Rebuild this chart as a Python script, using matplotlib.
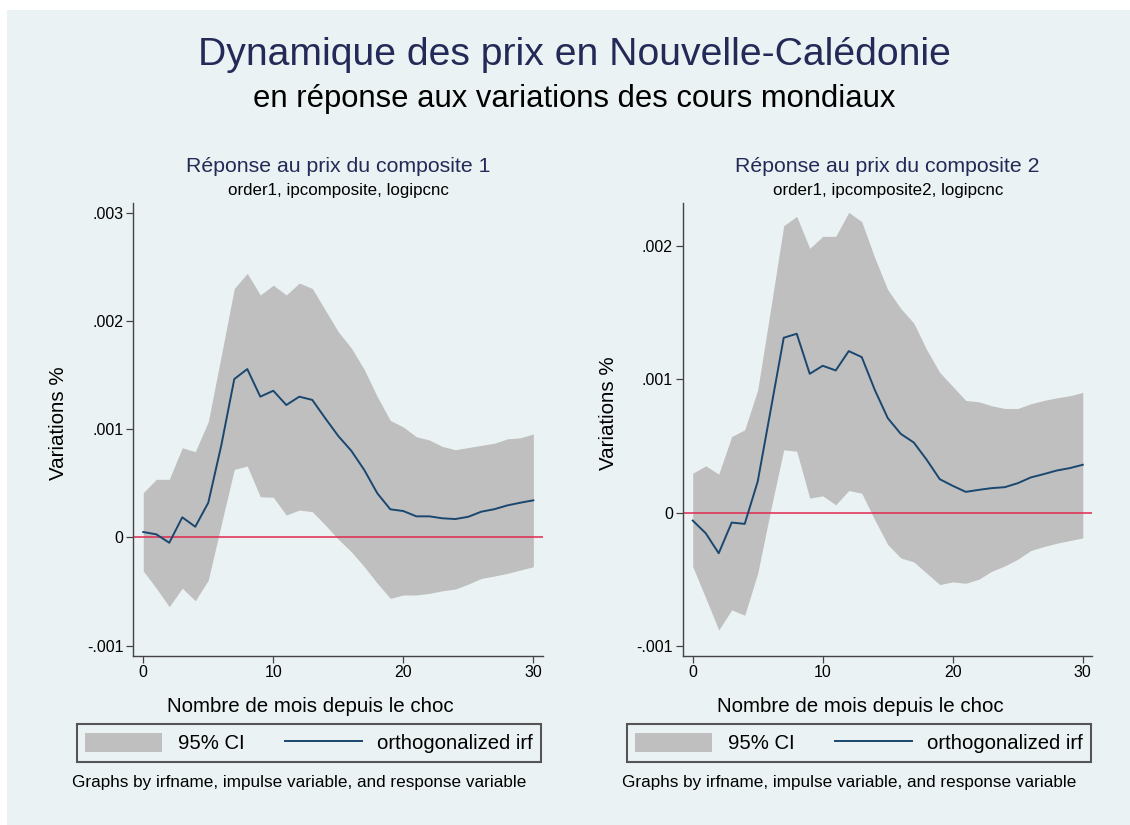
import matplotlib
matplotlib.use("Agg")
import matplotlib.pyplot as plt
from matplotlib.patches import Patch
from matplotlib.lines import Line2D
import numpy as np

plt.rcParams['font.family'] = ['Liberation Sans', 'DejaVu Sans']

# --- données ---
mois = list(range(31))

# composite 1
irf_1 = [0.000049, 0.000028, -0.000050, 0.000185, 0.000098, 0.000320, 0.000850,
         0.001463, 0.001555, 0.001300, 0.001355, 0.001223, 0.001300, 0.001270,
         0.001100, 0.000936, 0.000800, 0.000622, 0.000407, 0.000259, 0.000243,
         0.000194, 0.000194, 0.000176, 0.000169, 0.000190, 0.000237, 0.000260,
         0.000295, 0.000320, 0.000342]
haut_1 = [0.000412, 0.000536, 0.000536, 0.000828, 0.000791, 0.001069, 0.001680,
          0.002300, 0.002440, 0.002240, 0.002330, 0.002240, 0.002350, 0.002300,
          0.002100, 0.001900, 0.001750, 0.001550, 0.001300, 0.001080, 0.001020,
          0.000930, 0.000900, 0.000840, 0.000810, 0.000830, 0.000850, 0.000870,
          0.000910, 0.000920, 0.000955]
bas_1 = [-0.000311, -0.000470, -0.000641, -0.000470, -0.000586, -0.000395, 0.000120,
         0.000628, 0.000659, 0.000375, 0.000370, 0.000206, 0.000252, 0.000237,
         0.000114, -0.000018, -0.000133, -0.000272, -0.000425, -0.000564, -0.000533,
         -0.000533, -0.000518, -0.000494, -0.000478, -0.000432, -0.000380, -0.000358,
         -0.000333, -0.000302, -0.000272]

# composite 2
irf_2 = [-0.000060, -0.000155, -0.000305, -0.000075, -0.000085, 0.000233, 0.000770,
         0.001310, 0.001340, 0.001040, 0.001100, 0.001065, 0.001210, 0.001165,
         0.000920, 0.000708, 0.000590, 0.000525, 0.000395, 0.000250, 0.000200,
         0.000155, 0.000170, 0.000183, 0.000190, 0.000220, 0.000263, 0.000288,
         0.000315, 0.000333, 0.000358]
haut_2 = [0.000295, 0.000350, 0.000288, 0.000570, 0.000620, 0.000920, 0.001530,
          0.002150, 0.002220, 0.001980, 0.002070, 0.002070, 0.002250, 0.002180,
          0.001910, 0.001670, 0.001530, 0.001420, 0.001220, 0.001050, 0.000945,
          0.000840, 0.000830, 0.000800, 0.000780, 0.000780, 0.000815, 0.000840,
          0.000860, 0.000875, 0.000900]
bas_2 = [-0.000405, -0.000640, -0.000880, -0.000730, -0.000770, -0.000455, 0.000020,
         0.000470, 0.000460, 0.000108, 0.000125, 0.000058, 0.000165, 0.000145,
         -0.000055, -0.000240, -0.000340, -0.000370, -0.000455, -0.000540, -0.000520,
         -0.000530, -0.000500, -0.000440, -0.000400, -0.000350, -0.000285, -0.000255,
         -0.000230, -0.000210, -0.000190]

yticks_1 = [-0.001, 0, 0.001, 0.002, 0.003]
ylabels_1 = ['-.001', '0', '.001', '.002', '.003']
yticks_2 = [-0.001, 0, 0.001, 0.002]
ylabels_2 = ['-.001', '0', '.001', '.002']
xticks = [0, 10, 20, 30]

titres = ['Réponse au prix du composite 1', 'Réponse au prix du composite 2']
sous_titres = ['order1, ipcomposite, logipcnc', 'order1, ipcomposite2, logipcnc']

# --- couleurs style Stata s2color ---
FOND = '#eaf2f3'
GRIS_CI = '#bfbfbf'
NAVY = '#1a476f'
ROUGE = '#e0294f'
TITRE = '#232a57'
AXE = '#444444'

W, H = 1130, 825
fig = plt.figure(figsize=(W / 100, H / 100), dpi=100)
fig.patch.set_facecolor('white')
# zone teintée du graphique
fig.patches.append(plt.Rectangle((7 / W, 0), 1 - 7 / W, 1 - 10 / H,
                                 transform=fig.transFigure, facecolor=FOND,
                                 edgecolor='none', zorder=-10))


def fx(px):
    return px / W


def fy(py):
    return 1 - py / H


panneaux = [
    dict(left=133, irf=irf_1, haut=haut_1, bas=bas_1, ylim=(-0.001094, 0.00309),
         yt=yticks_1, yl=ylabels_1, xlim=(-0.79, 30.72), ylab_y=423),
    dict(left=682.7, irf=irf_2, haut=haut_2, bas=bas_2, ylim=(-0.001073, 0.00232),
         yt=yticks_2, yl=ylabels_2, xlim=(-0.77, 30.74), ylab_y=413),
]

for i, p in enumerate(panneaux):
    off = p['left'] - 133
    ax = fig.add_axes([fx(p['left']), fy(655.7), 409.7 / W, (655.7 - 203) / H])
    ax.set_zorder(5)
    ax.patch.set_visible(False)
    ax.fill_between(mois, p['bas'], p['haut'], color=GRIS_CI, linewidth=0, zorder=1)
    ax.axhline(0, color=ROUGE, linewidth=1.1, zorder=2)
    ax.plot(mois, p['irf'], color=NAVY, linewidth=1.4, zorder=3)
    ax.set_xlim(*p['xlim'])
    ax.set_ylim(*p['ylim'])
    ax.set_xticks(xticks)
    ax.set_yticks(p['yt'])
    ax.set_yticklabels(p['yl'])
    for s in ['top', 'right']:
        ax.spines[s].set_visible(False)
    for s in ['left', 'bottom']:
        ax.spines[s].set_color(AXE)
        ax.spines[s].set_linewidth(1.0)
    ax.tick_params(axis='both', length=5, width=0.9, color=AXE, labelsize=11.5,
                   pad=2, labelcolor='black')

    # titres du panneau
    fig.text(fx(338 + off), fy(171.7), titres[i], ha='center', va='baseline',
             fontsize=15.3, color=TITRE)
    fig.text(fx(338 + off), fy(195), sous_titres[i], ha='center', va='baseline',
             fontsize=12.2, color='black')
    fig.text(fx(59 + off), fy(p['ylab_y']), 'Variations %', rotation=90,
             ha='center', va='center', fontsize=14.8)
    fig.text(fx(310.5 + off), fy(711.7), 'Nombre de mois depuis le choc',
             ha='center', va='baseline', fontsize=14.8)
    fig.text(fx(71.8 + off), fy(786.7),
             'Graphs by irfname, impulse variable, and response variable',
             ha='left', va='baseline', fontsize=12.3)

    handles = [Patch(facecolor=GRIS_CI, edgecolor='none'),
               Line2D([], [], color=NAVY, linewidth=1.4)]
    leg = fig.legend(handles, ['95% CI', 'orthogonalized irf'], ncol=2,
                     loc='center', bbox_to_anchor=(fx(309.3 + off), fy(743)),
                     fontsize=14.6, frameon=True, fancybox=False,
                     handlelength=3.8, handleheight=1.13, handletextpad=0.76,
                     columnspacing=2.0, borderpad=0.4, borderaxespad=0)
    fr = leg.get_frame()
    fr.set_facecolor(FOND)
    fr.set_edgecolor('#555555')
    fr.set_linewidth(1.5)
    fr.set_alpha(1)

fig.text(fx(574.2), fy(65), 'Dynamique des prix en Nouvelle-Calédonie',
         ha='center', va='baseline', fontsize=28.2, color=TITRE)
fig.text(fx(574), fy(107.3), 'en réponse aux variations des cours mondiaux',
         ha='center', va='baseline', fontsize=22.3, color='black')

fig.savefig('out.png', dpi=100, facecolor='white')
